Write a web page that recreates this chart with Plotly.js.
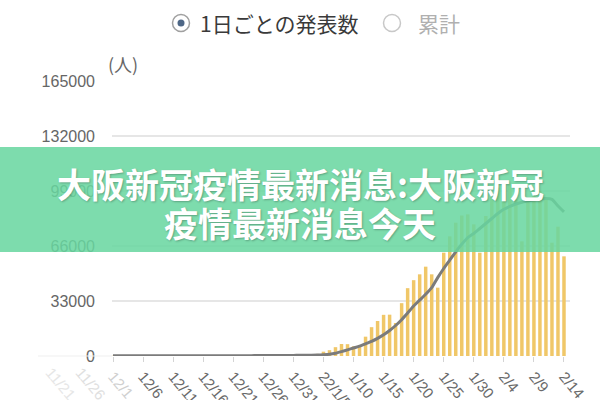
<!DOCTYPE html>
<html>
<head>
<meta charset="utf-8">
<script src="https://cdn.plot.ly/plotly-3.0.1.min.js"></script>
<style>html,body{margin:0;padding:0;background:#fff;}#chart{width:600px;height:400px;}</style>
</head>
<body>
<div id="chart"></div>
<script>
// ---- Data ----
const startDate = '2021-12-01';           // first day shown
// Daily reported cases, 12/1 .. 2/14
const dailyCases = [
  // Dec 1-31
  150,130,120,110,130,90,130,150,170,140,170,150,130,120,170,150,160,150,150,120,250,260,280,290,400,270,220,380,400,470,500,
  // Jan 1-31
  530,550,780,1260,2600,3500,5300,7200,7100,5800,5600,11600,17300,21000,24700,24800,19800,31700,40700,45500,49000,53600,49000,41000,62000,71800,80000,84300,85000,79000,62000,
  // Feb 1-14
  84000,96000,101000,99000,103000,94000,68800,93000,96000,99000,94000,68000,77600,59800
];
// 7-day average line, 12/1 .. 2/14
const avgCases = [
  // Dec 1-31
  150,150,150,140,140,130,130,130,130,130,140,140,140,140,150,150,150,150,150,150,160,180,200,220,250,260,260,280,300,330,360,
  // Jan 1-31
  400,430,470,560,750,1000,1600,2600,3700,4800,5900,7300,8800,10600,12700,15300,18300,21800,25800,30000,33500,37000,41000,47000,52500,57500,62500,67000,71000,73500,76500,
  // Feb 1-14
  79500,82500,85500,88000,89800,91200,92300,93000,93700,94200,94500,94000,90000,86500
];
const xTickVals = ['2021-12-01','2021-12-06','2021-12-11','2021-12-16','2021-12-21','2021-12-26','2021-12-31',
  '2022-01-05','2022-01-10','2022-01-15','2022-01-20','2022-01-25','2022-01-30','2022-02-04','2022-02-09','2022-02-14'];
const xTickText = ['<span style="color:#d0d0d0">12/1</span>','12/6','12/11','12/16','12/21','12/26','12/31',
  '22/1/5','1/10','1/15','1/20','1/25','1/30','2/4','2/9','2/14'];
const fadedLabels = ['11/21','11/26'];
const yTickVals = [0,33000,66000,99000,132000,165000];
const yTickText = ['0','33000','66000','99000','132000','165000'];
const legendItems = ['1日ごとの発表数','累計'];
const yUnit = '(人)';
const bannerLines = ['大阪新冠疫情最新消息:大阪新冠','疫情最新消息今天'];

// build date categories
const dates = [];
(function(){
  const d0 = new Date(startDate + 'T00:00:00Z');
  for (let i = 0; i < dailyCases.length; i++) {
    const d = new Date(d0.getTime() + i*86400000);
    dates.push(d.toISOString().slice(0,10));
  }
})();

// ---- Layout helpers (pixel -> paper) ----
const W = 600, H = 400, ML = 112, MR = 30, MT = 81, MB = 44;
const PW = W - ML - MR, PH = H - MT - MB;
const px = x => (x - ML) / PW;
const py = y => (H - MB - y) / PH;

const traces = [
  {
    type: 'bar', x: dates, y: dailyCases,
    marker: {color: '#f0c768', line: {width: 0}},
    hoverinfo: 'skip'
  },
  {
    type: 'scatter', mode: 'lines', x: dates, y: avgCases,
    line: {color: '#7b7b7b', width: 3, shape: 'spline', smoothing: 0.6},
    hoverinfo: 'skip'
  }
];

const shapes = [
  // faded zero line to the left
  {type:'line', xref:'paper', yref:'paper', x0:px(38), x1:px(112), y0:0, y1:0, line:{color:'#efefef', width:1}},
  // radio 1 (selected)
  {type:'circle', xref:'paper', yref:'paper', x0:px(172.5), x1:px(189.5), y0:py(31.5), y1:py(14.5), line:{color:'#a0a0a0', width:1.5}, fillcolor:'#ffffff'},
  {type:'circle', xref:'paper', yref:'paper', x0:px(177.5), x1:px(184.5), y0:py(26.5), y1:py(19.5), line:{width:0}, fillcolor:'#4e6786'},
  // radio 2
  {type:'circle', xref:'paper', yref:'paper', x0:px(383.5), x1:px(400.5), y0:py(31.5), y1:py(14.5), line:{color:'#c8c8c8', width:1.5}, fillcolor:'#ffffff'},
  // green banner
  {type:'rect', xref:'paper', yref:'paper', layer:'above', x0:px(0), x1:px(600), y0:py(252), y1:py(147),
   line:{width:0}, fillcolor:'rgba(104,214,160,0.86)'}
];

const annotations = [
  {xref:'paper', yref:'paper', x:px(198), y:py(23), xanchor:'left', yanchor:'middle', showarrow:false,
   text:legendItems[0], font:{family:'Noto Sans CJK JP', size:21, color:'#3a3a3a'}},
  {xref:'paper', yref:'paper', x:px(416), y:py(23), xanchor:'left', yanchor:'middle', showarrow:false,
   text:legendItems[1], font:{family:'Noto Sans CJK JP', size:21, color:'#b0b0b0'}},
  {xref:'paper', yref:'paper', x:px(106), y:py(64), xanchor:'left', yanchor:'middle', showarrow:false,
   text:yUnit, font:{family:'Noto Sans CJK JP', size:18, color:'#666'}},
  {xref:'paper', yref:'paper', x:px(40), y:py(361), xanchor:'left', yanchor:'top', showarrow:false, textangle:50,
   text:fadedLabels[0], font:{family:'Liberation Sans, Arial', size:15, color:'#e6e6e6'}},
  {xref:'paper', yref:'paper', x:px(70), y:py(361), xanchor:'left', yanchor:'top', showarrow:false, textangle:50,
   text:fadedLabels[1], font:{family:'Liberation Sans, Arial', size:15, color:'#e0e0e0'}},
  {xref:'paper', yref:'paper', x:px(300), y:py(183), xanchor:'center', yanchor:'middle', showarrow:false,
   text:'<b>'+bannerLines[0]+'</b>', font:{family:'Noto Sans CJK SC', size:34, weight:900, color:'#ffffff', shadow:'1px 1px 2px rgba(0,0,0,0.25)'}},
  {xref:'paper', yref:'paper', x:px(300), y:py(222), xanchor:'center', yanchor:'middle', showarrow:false,
   text:'<b>'+bannerLines[1]+'</b>', font:{family:'Noto Sans CJK SC', size:34, weight:900, color:'#ffffff', shadow:'1px 1px 2px rgba(0,0,0,0.25)'}}
];

const layout = {
  width: W, height: H,
  margin: {l: ML, r: MR, t: MT, b: MB, pad: 0},
  paper_bgcolor: '#ffffff', plot_bgcolor: '#ffffff',
  showlegend: false,
  bargap: 0.42,
  font: {family: 'Liberation Sans, Arial, sans-serif', color: '#666'},
  xaxis: {
    type: 'date', range: ['2021-11-30 20:00', '2022-02-15 00:00'],
    tickmode: 'array', tickvals: xTickVals, ticktext: xTickText,
    tickangle: 50, tickfont: {size: 15, color: '#6a6a6a'},
    ticks: 'outside', ticklen: 5, tickcolor: '#d4d4d4', tickwidth: 1,
    showgrid: false, zeroline: false, showline: false, fixedrange: true
  },
  yaxis: {
    range: [0, 165000],
    tickmode: 'array', tickvals: yTickVals, ticktext: yTickText,
    tickfont: {size: 16, color: '#666'},
    gridcolor: '#e6e6e6', gridwidth: 1.2,
    zeroline: false, showline: false, ticks: '', ticklabelstandoff: 16, fixedrange: true
  },
  shapes: shapes,
  annotations: annotations
};

Plotly.newPlot('chart', traces, layout, {displayModeBar: false, staticPlot: true});
</script>
</body>
</html>
